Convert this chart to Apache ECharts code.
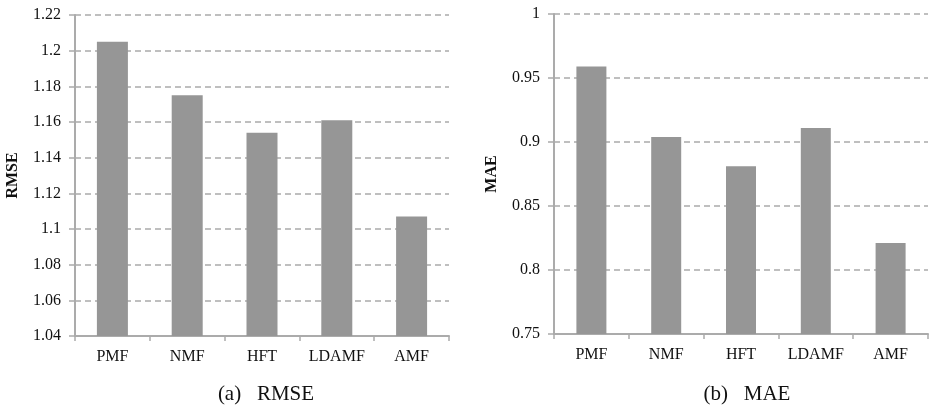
<!DOCTYPE html>
<html>
<head>
<meta charset="utf-8">
<script src="https://cdn.jsdelivr.net/npm/echarts@6/dist/echarts.min.js"></script>
<style>html,body{margin:0;padding:0;background:#fff}#c{width:930px;height:408px}</style>
</head>
<body>
<div id="c"></div>
<script>
const categories = ['PMF', 'NMF', 'HFT', 'LDAMF', 'AMF'];
const rmseValues = [1.205, 1.175, 1.154, 1.161, 1.107];
const maeValues = [0.959, 0.904, 0.881, 0.911, 0.821];
const captions = ['(a)   RMSE', '(b)   MAE'];

const font = '"Liberation Serif", "Times New Roman", serif';
const gridColor = '#ababab';
const barColor = '#969696';

function xAxis(gi) {
  return {
    type: 'category', gridIndex: gi, data: categories,
    axisLine: { lineStyle: { color: gridColor, width: 2 } },
    axisTick: { show: true, length: 5, alignWithLabel: false, lineStyle: { color: gridColor, width: 1.5 } },
    axisLabel: { color: '#111', fontFamily: font, fontSize: 16, margin: 13 }
  };
}
function yAxis(gi, name, min, max, interval) {
  return {
    type: 'value', gridIndex: gi, min: min, max: max, interval: interval,
    name: name, nameLocation: 'middle', nameGap: gi === 0 ? 54 : 54, nameRotate: 90,
    nameTextStyle: { color: '#111', fontFamily: font, fontSize: 16, fontWeight: 'bold' },
    axisLine: { show: true, lineStyle: { color: gridColor, width: 2 } },
    axisTick: { show: true, length: 6, lineStyle: { color: gridColor, width: 1.5 } },
    axisLabel: { color: '#111', fontFamily: font, fontSize: 16, margin: 14 },
    splitLine: { show: true, lineStyle: { color: gridColor, type: [6, 4], width: 1.6 } }
  };
}

const chart = echarts.init(document.getElementById('c'), null, { renderer: 'canvas' });
chart.setOption({
  animation: false,
  backgroundColor: '#fff',
  title: [
    { text: captions[0], left: 261, top: 379, textAlign: 'center',
      textStyle: { fontFamily: font, fontSize: 21, fontWeight: 'normal', color: '#111' } },
    { text: captions[1], left: 742, top: 379, textAlign: 'center',
      textStyle: { fontFamily: font, fontSize: 21, fontWeight: 'normal', color: '#111' } }
  ],
  grid: [
    { left: 75, top: 15, right: 481, bottom: 72 },
    { left: 554, top: 14, right: 2, bottom: 74 }
  ],
  xAxis: [xAxis(0), xAxis(1)],
  yAxis: [yAxis(0, 'RMSE', 1.04, 1.22, 0.02), yAxis(1, 'MAE', 0.75, 1, 0.05)],
  series: [
    { type: 'bar', xAxisIndex: 0, yAxisIndex: 0, data: rmseValues, barWidth: 31,
      itemStyle: { color: barColor } },
    { type: 'bar', xAxisIndex: 1, yAxisIndex: 1, data: maeValues, barWidth: 30,
      itemStyle: { color: barColor } }
  ]
});
</script>
</body>
</html>
